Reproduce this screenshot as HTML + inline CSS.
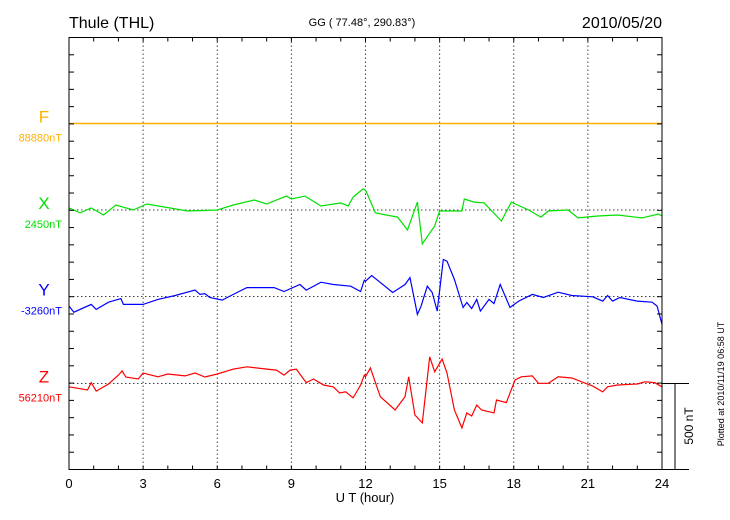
<!DOCTYPE html>
<html><head><meta charset="utf-8"><style>
body{margin:0;background:#fff}
svg{display:block;font-family:"Liberation Sans",sans-serif}
</style></head><body>
<svg id="chart" width="730" height="520" viewBox="0 0 730 520">
<g id="grid"></g>
<g id="series"></g>
<g id="axes"></g>
<text x="69" y="28" font-size="16">Thule (THL)</text>
<text x="362" y="26" font-size="11" text-anchor="middle">GG ( 77.48°, 290.83°)</text>
<text x="662" y="28" font-size="16" text-anchor="end">2010/05/20</text>
<text x="365" y="502" font-size="13" text-anchor="middle">U T (hour)</text>
<text transform="translate(693,426) rotate(-90)" font-size="12" text-anchor="middle">500 nT</text>
<text transform="translate(724,384) rotate(-90)" font-size="9" text-anchor="middle">Plotted at 2010/11/19 06:58 UT</text>
</svg>
<script>
const hourTicks=[0,3,6,9,12,15,18,21,24];
const compNames=["F","X","Y","Z"];
const compBaselines=["88880nT","2450nT","-3260nT","56210nT"];
const fT=[0,24];
const fV=[0,0];
const xT=[0,0.45,0.9,1.4,1.9,2.6,3.15,4.8,6.0,6.65,7.5,8.0,8.8,9.0,9.55,10.2,11.0,11.3,11.5,11.9,12.0,12.4,13.3,13.7,14.1,14.3,14.8,15.0,15.9,16.0,16.4,16.8,17.5,17.9,18.6,19.1,19.4,20.2,20.6,21.4,22.2,23.2,23.85,24];
const xV=[12,-17,12,-29,29,0,35,-6,0,29,58,35,81,64,81,23,41,23,75,122,116,-17,-41,-116,46,-197,-93,-6,-6,64,46,41,-64,46,0,-41,-6,0,-46,-35,-29,-46,-23,-35];
const yT=[0,0.2,0.9,1.1,1.6,2.1,2.2,3,3.6,4.3,5.1,5.3,5.5,5.7,6.2,6.65,7.2,8.3,8.7,9.35,9.6,10.2,10.7,11.4,11.8,11.95,12,12.25,13.1,13.6,13.8,14.1,14.25,14.5,14.7,14.9,15.15,15.3,15.6,15.95,16.1,16.3,16.5,16.65,17.0,17.2,17.45,17.85,18.2,18.75,19.2,19.8,20.35,21.2,21.6,21.8,22.0,22.3,23.0,23.6,23.8,24];
const yV=[-56,-91,-46,-75,-33,-12,-46,-46,-17,6,37,12,17,-6,-21,12,52,52,29,70,37,83,70,60,29,95,89,122,23,70,110,-104,-56,60,23,-85,215,205,99,-64,-35,-70,-17,-85,-17,-41,70,-64,-27,12,-6,25,6,-2,-27,6,-27,-6,-27,-33,-56,-162];
const zT=[0,0.75,0.9,1.1,1.6,2.0,2.15,2.3,2.8,3.0,3.6,4.0,4.7,5.1,5.5,6,6.65,7.2,8.0,8.4,8.7,8.95,9.2,9.6,9.9,10.3,10.7,10.95,11.2,11.5,11.8,11.95,12,12.2,12.6,13.2,13.6,13.75,14.0,14.3,14.6,14.8,15.1,15.3,15.6,15.9,16.1,16.3,16.5,16.7,17.2,17.3,17.7,18.05,18.3,18.75,19.0,19.4,19.8,20.35,21.2,21.6,21.8,22.2,23.0,23.3,23.7,24];
const zV=[-19,-38,5,-44,-3,49,73,38,26,61,39,55,44,61,38,55,84,97,84,78,49,78,84,5,26,-9,-20,-55,-48,-84,-9,49,39,90,-77,-154,-77,39,-183,-229,155,68,142,61,-154,-258,-171,-189,-125,-154,-171,-96,-111,20,39,44,1,1,39,32,-15,-49,-19,-9,-3,10,5,-19];

const NS="http://www.w3.org/2000/svg";
const L=69,R=662,T=37.5,B=469.5;
const pxPerNT=86/500;
const baseY=[123.5,210,296.5,383.5];
const colors=["#ffb000","#00e000","#0000ff","#ff0000"];
const xs=t=>L+(R-L)*t/24;
const ys=(i,v)=>baseY[i]-v*pxPerNT;
function mk(tag,attrs,parent){const e=document.createElementNS(NS,tag);for(const k in attrs)e.setAttribute(k,attrs[k]);parent.appendChild(e);return e;}
const grid=document.getElementById('grid'),axes=document.getElementById('axes'),ser=document.getElementById('series');
hourTicks.forEach(h=>{
  if(h>0&&h<24){const g=mk('line',{x1:xs(h),x2:xs(h),y1:T,y2:B,stroke:'#444','stroke-width':1,'stroke-dasharray':'1.5,2.5'},grid);
  
  }
  const t=mk('text',{x:xs(h),y:488,'font-size':13,'text-anchor':'middle'},axes);t.textContent=h;
  
  
});
for(let h=0;h<=24;h++){mk('line',{x1:xs(h),x2:xs(h),y1:T,y2:T+4,stroke:'#000'},axes);mk('line',{x1:xs(h),x2:xs(h),y1:B,y2:B-4,stroke:'#000'},axes);}
for(let k=0;k<=25;k++){const y=T+k*(B-T)/25;mk('line',{x1:L,x2:L+5,y1:y,y2:y,stroke:'#000'},axes);mk('line',{x1:R,x2:R-5,y1:y,y2:y,stroke:'#000'},axes);}
baseY.forEach((y,i)=>{
  const g=mk('line',{x1:L,x2:R,y1:y,y2:y,stroke:'#444','stroke-width':1,'stroke-dasharray':'1.5,2.5'},grid);
  
  
  const n=mk('text',{x:44,y:y-1,'font-size':17,'text-anchor':'middle',fill:colors[i]},axes);n.textContent=compNames[i];
  
  
  const v=mk('text',{x:62,y:y+18,'font-size':11,'text-anchor':'end',fill:colors[i]},axes);v.textContent=compBaselines[i];
  
  
});
mk('rect',{x:L,y:T,width:R-L,height:B-T,fill:'none',stroke:'#000','stroke-width':1},axes);
mk('line',{x1:R,x2:689,y1:383.5,y2:383.5,stroke:'#000'},axes);
mk('line',{x1:R,x2:689,y1:B,y2:B,stroke:'#000'},axes);
const sb=mk('line',{x1:675,x2:675,y1:383.5,y2:B,stroke:'#000'},axes);


[[fT,fV],[xT,xV],[yT,yV],[zT,zV]].forEach(([tt,vv],i)=>{
  const p=tt.map((t,j)=>xs(t).toFixed(1)+','+ys(i,vv[j]).toFixed(1)).join(' ');
  const pl=mk('polyline',{points:p,fill:'none',stroke:colors[i],'stroke-width':i===0?1.5:1.2},ser);
  
  
});
</script>
</body></html>
